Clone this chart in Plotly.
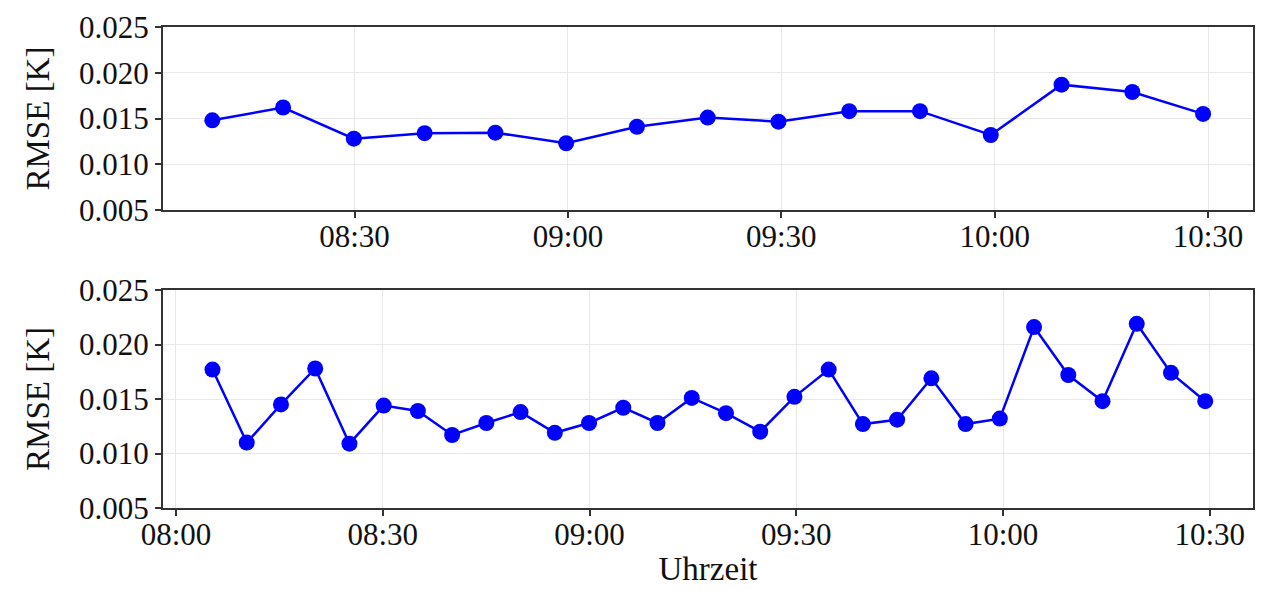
import plotly.graph_objects as go

DAY = "2023-01-01 "

# Top panel (10-minute intervals)
top_times = ["08:10:00", "08:19:57", "08:29:54", "08:39:51", "08:49:48",
             "08:59:45", "09:09:42", "09:19:39", "09:29:36", "09:39:33",
             "09:49:30", "09:59:27", "10:09:24", "10:19:21", "10:29:18"]
top_rmse = [0.0148, 0.0162, 0.0128, 0.0134, 0.01345,
            0.0123, 0.0141, 0.0151, 0.01465, 0.0158,
            0.0158, 0.0132, 0.0187, 0.0179, 0.0155]

# Bottom panel (5-minute intervals)
bot_times = ["08:05:18", "08:10:16", "08:15:14", "08:20:12", "08:25:10",
             "08:30:08", "08:35:06", "08:40:04", "08:45:02", "08:50:00",
             "08:54:58", "08:59:56", "09:04:54", "09:09:52", "09:14:50",
             "09:19:48", "09:24:46", "09:29:44", "09:34:42", "09:39:40",
             "09:44:38", "09:49:36", "09:54:34", "09:59:32", "10:04:30",
             "10:09:28", "10:14:26", "10:19:24", "10:24:22", "10:29:20"]
bot_rmse = [0.0177, 0.0110, 0.0145, 0.0178, 0.0109,
            0.0144, 0.0139, 0.0117, 0.0128, 0.0138,
            0.0119, 0.0128, 0.0142, 0.0128, 0.0151,
            0.0137, 0.0120, 0.0152, 0.0177, 0.0127,
            0.0131, 0.0169, 0.0127, 0.0132, 0.0216,
            0.0172, 0.0148, 0.0219, 0.0174, 0.0148]

y_ticks = [0.005, 0.010, 0.015, 0.020, 0.025]
y_ticklabels = ["0.005", "0.010", "0.015", "0.020", "0.025"]
top_xticks = ["08:30", "09:00", "09:30", "10:00", "10:30"]
bot_xticks = ["08:00", "08:30", "09:00", "09:30", "10:00", "10:30"]

BLUE = "#0000ff"
FONT = "Liberation Serif"
TXT = "#111111"

fig = go.Figure()
fig.add_trace(go.Scatter(x=[DAY + t for t in top_times], y=top_rmse,
                         mode="lines+markers", xaxis="x", yaxis="y",
                         line=dict(color=BLUE, width=2.5),
                         marker=dict(color=BLUE, size=16), showlegend=False))
fig.add_trace(go.Scatter(x=[DAY + t for t in bot_times], y=bot_rmse,
                         mode="lines+markers", xaxis="x2", yaxis="y2",
                         line=dict(color=BLUE, width=2.5),
                         marker=dict(color=BLUE, size=16), showlegend=False))

axis_common = dict(showline=True, linecolor="#333333", linewidth=2, mirror=True,
                   ticks="outside", ticklen=6, tickwidth=2, tickcolor="#333333",
                   showgrid=True, gridcolor="#e8e8e8", gridwidth=1,
                   zeroline=False, automargin=False, ticklabeloverflow="allow",
                   tickfont=dict(family=FONT, size=31, color=TXT))

title_font = dict(family=FONT, size=33, color=TXT)

# plot area in figure pixels: top 19 .. bottom 500 (height 481)
fig.update_layout(
    template="none",
    width=1266, height=582,
    margin=dict(l=155, r=21, t=19, b=82),
    paper_bgcolor="white", plot_bgcolor="white",
    font=dict(family=FONT, color=TXT),
    xaxis=dict(domain=[0, 1], anchor="y", type="date",
               range=[DAY + "08:03:04", DAY + "10:36:19"],
               tickvals=[DAY + t for t in top_xticks], ticktext=top_xticks,
               ticklabelstandoff=-8,
               **axis_common),
    yaxis=dict(domain=[0.6195, 1.0], anchor="x", range=[0.005, 0.025],
               tickvals=y_ticks, ticktext=y_ticklabels,
               title=dict(text="RMSE [K]", font=title_font, standoff=19),
               **axis_common),
    xaxis2=dict(domain=[0, 1], anchor="y2", type="date",
                range=[DAY + "07:58:07", DAY + "10:36:16"],
                tickvals=[DAY + t for t in bot_xticks], ticktext=bot_xticks,
                ticklabelstandoff=-8,
                title=dict(text="Uhrzeit", font=title_font, standoff=6),
                **axis_common),
    yaxis2=dict(domain=[0, 0.4532], anchor="x2", range=[0.005, 0.025],
                tickvals=y_ticks, ticktext=y_ticklabels,
                title=dict(text="RMSE [K]", font=title_font, standoff=19),
                **axis_common),
)

fig.write_html("out.html")
